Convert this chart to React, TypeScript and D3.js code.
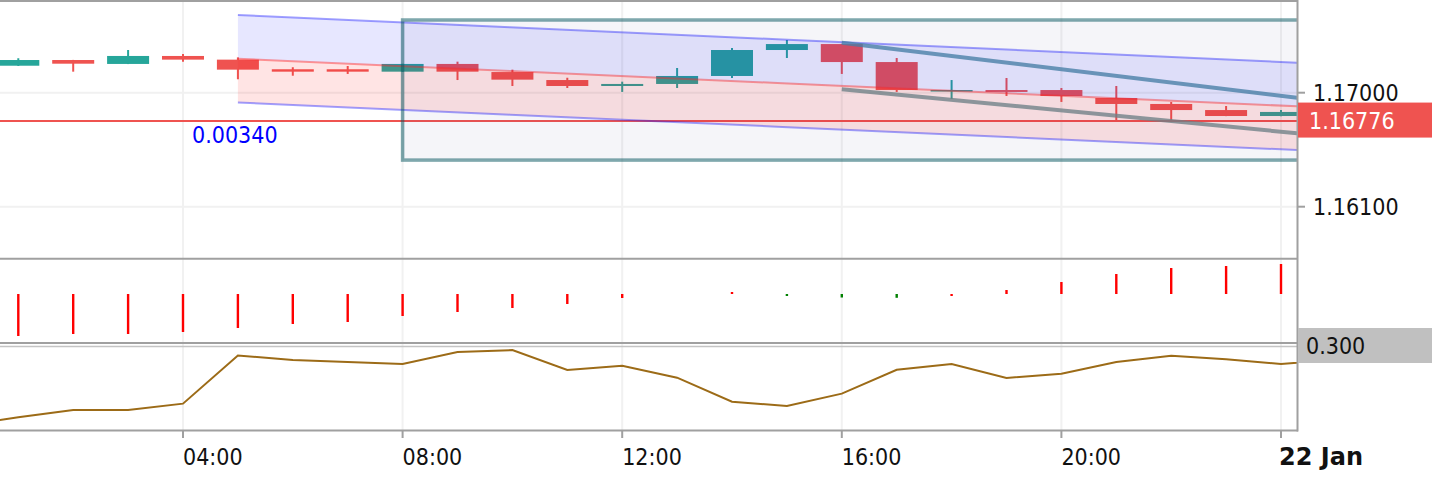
import React from "react";
import * as d3 from "d3";

// ---------- data ----------
const candleHours = [1, 2, 3, 4, 5, 6, 7, 8, 9, 10, 11, 12, 13, 14, 15, 16, 17, 18, 19, 20, 21, 22, 23, 24];
const opens = [1.17213, 1.17258, 1.17227, 1.1729, 1.17261, 1.17185, 1.17185, 1.17166, 1.17227, 1.17163, 1.171, 1.17053, 1.17069, 1.17132, 1.17337, 1.17384, 1.17242, 1.17009, 1.17021, 1.17021, 1.16958, 1.16911, 1.16863, 1.16816];
const highs = [1.17272, 1.17259, 1.17337, 1.17306, 1.17279, 1.17201, 1.17211, 1.17228, 1.17245, 1.17182, 1.17118, 1.17087, 1.17195, 1.17353, 1.17416, 1.17385, 1.17274, 1.171, 1.17116, 1.17037, 1.17053, 1.16927, 1.16895, 1.16863];
const lows = [1.17211, 1.17166, 1.17226, 1.17245, 1.17106, 1.17134, 1.17148, 1.17165, 1.171, 1.17053, 1.17037, 1.17006, 1.17037, 1.17116, 1.17274, 1.17148, 1.17006, 1.1695, 1.16974, 1.16927, 1.16784, 1.16784, 1.16815, 1.16815];
const closes = [1.17258, 1.17229, 1.1729, 1.17261, 1.17182, 1.17166, 1.17166, 1.17227, 1.17166, 1.17103, 1.17053, 1.17069, 1.17132, 1.17337, 1.17384, 1.17242, 1.17021, 1.17021, 1.17006, 1.16974, 1.16911, 1.16863, 1.16816, 1.16848];

const histValues = [-4.2, -4.0, -4.0, -3.8, -3.4, -3.0, -2.8, -2.2, -1.8, -1.4, -1.0, -0.4, 0, 0.2, -0.2, -0.35, -0.38, -0.2, 0.4, 1.2, 2.0, 2.6, 2.8, 3.0];

const oscHours = [0, 1, 2, 3, 4, 5, 6, 7, 8, 9, 10, 11, 12, 13, 14, 15, 16, 17, 18, 19, 20, 21, 22, 23, 24, 25];
const oscValues = [0.021, 0.048, 0.074, 0.074, 0.096, 0.265, 0.249, 0.242, 0.235, 0.277, 0.284, 0.214, 0.229, 0.187, 0.103, 0.088, 0.131, 0.215, 0.235, 0.186, 0.201, 0.242, 0.264, 0.252, 0.235, 0.249];

const timeTicks = [4, 8, 12, 16, 20, 24];
const timeTickLabels = ["04:00", "08:00", "12:00", "16:00", "20:00", "22 Jan"];
const priceTicks = [1.161, 1.17];
const priceTickLabels = ["1.16100", "1.17000"];
const lastPrice = 1.16776;
const lastPriceLabel = "1.16776";
const oscLabelValue = 0.3;
const oscLabel = "0.300";

// regression channel (anchor hours and middle prices), deviation
const channelHours = [5, 24];
const channelMid = [1.17268, 1.16898];
const channelDev = 0.00345;
const channelLabel = "0.00340";

// rectangle
const rectHours = [8, 27];
const rectPrices = [1.17574, 1.16468];

// trend lines (rays)
const trend1Hours = [16, 24];
const trend1Prices = [1.17395, 1.16975];
const trend2Hours = [16, 24];
const trend2Prices = [1.17027, 1.16692];

// ---------- helpers ----------
const t = (h: number) => new Date(Date.UTC(2026, 0, 21, 0) + h * 3600000);
const lerp = (h0: number, p0: number, h1: number, p1: number, h: number) => p0 + ((p1 - p0) * (h - h0)) / (h1 - h0);

const FONT = '"DejaVu Sans Condensed", "DejaVu Sans", sans-serif';
const GREEN = "#26a69a";
const RED = "#ef5350";
const BORDER = "#a0a0a0";
const GRID = "#f1f1f1";

export default function App() {
  const W = 1432;
  const H = 478;
  const plotR = 1297;
  const mainTop = 2, mainBot = 258;
  const midTop = 259.5, midBot = 342.5;
  const botTop = 347, botBot = 430;

  const x = d3.scaleUtc().domain([t(0), t(24)]).range([-36.6, 1281]);
  const yP = d3.scaleLinear().domain([priceTicks[0], priceTicks[1]]).range([206.7, 92.7]);
  const yH = d3.scaleLinear().domain([-5, 3.5]).range([344, 259]);
  const yO = d3.scaleLinear().domain([0, 0.3]).range([431, 345.5]);

  const xh = (h: number) => x(t(h));
  const step = xh(1) - xh(0);
  const bodyW = step * 0.765;
  const hEnd = (x.invert(plotR + 30).getTime() - t(0).getTime()) / 3600000;

  // channel
  const chH = d3.range(channelHours[0], hEnd + 0.001, (hEnd - channelHours[0]) / 4);
  const midAt = (h: number) => lerp(channelHours[0], channelMid[0], channelHours[1], channelMid[1], h);
  const areaUpper = d3
    .area<number>()
    .x((h) => xh(h))
    .y0((h) => yP(midAt(h)))
    .y1((h) => yP(midAt(h) + channelDev));
  const areaLower = d3
    .area<number>()
    .x((h) => xh(h))
    .y0((h) => yP(midAt(h) - channelDev))
    .y1((h) => yP(midAt(h)));
  const lineGen = (off: number) =>
    d3
      .line<number>()
      .x((h) => xh(h))
      .y((h) => yP(midAt(h) + off));

  const t1At = (h: number) => lerp(trend1Hours[0], trend1Prices[0], trend1Hours[1], trend1Prices[1], h);
  const t2At = (h: number) => lerp(trend2Hours[0], trend2Prices[0], trend2Hours[1], trend2Prices[1], h);

  const oscLine = d3
    .line<number>()
    .x((_, i) => xh(oscHours[i]))
    .y((v) => yO(v));

  const gridX = timeTicks.map((h) => xh(h));

  return (
    <svg
      width={W}
      height={H}
      style={{ position: "fixed", left: 0, top: 0, background: "#fff" }}
      fontFamily={FONT}
    >
      <defs>
        <clipPath id="clipMain">
          <rect x={0} y={mainTop} width={plotR} height={mainBot - mainTop} />
        </clipPath>
        <clipPath id="clipMid">
          <rect x={0} y={midTop} width={plotR} height={midBot - midTop} />
        </clipPath>
        <clipPath id="clipBot">
          <rect x={0} y={botTop} width={plotR} height={botBot - botTop} />
        </clipPath>
      </defs>
      <rect x={0} y={0} width={W} height={H} fill="#fff" />

      {/* vertical grid through all panels */}
      {gridX.map((gx, i) => (
        <line key={"gx" + i} x1={gx} x2={gx} y1={mainTop} y2={botBot} stroke={GRID} strokeWidth={2} />
      ))}
      {/* horizontal grid main */}
      {priceTicks.map((p, i) => (
        <line key={"gy" + i} x1={0} x2={plotR} y1={yP(p)} y2={yP(p)} stroke={GRID} strokeWidth={2} />
      ))}

      {/* main panel */}
      <g clipPath="url(#clipMain)">
        {candleHours.map((h, i) => {
          const up = closes[i] >= opens[i];
          const c = up ? GREEN : RED;
          const cx = xh(h);
          const yTop = yP(Math.max(opens[i], closes[i]));
          const yBot = yP(Math.min(opens[i], closes[i]));
          return (
            <g key={"c" + i}>
              <line x1={cx} x2={cx} y1={yP(highs[i])} y2={yP(lows[i])} stroke={c} strokeWidth={2} />
              <rect x={cx - bodyW / 2} y={yTop} width={bodyW} height={Math.max(yBot - yTop, 1.5)} fill={c} />
            </g>
          );
        })}

        {/* last price line */}
        <line x1={0} x2={plotR} y1={yP(lastPrice)} y2={yP(lastPrice)} stroke={RED} strokeWidth={2} />

        {/* regression channel */}
        <path d={areaUpper(chH) || ""} fill="rgba(40,40,255,0.11)" />
        <path d={areaLower(chH) || ""} fill="rgba(255,30,30,0.12)" />
        <path d={lineGen(channelDev)(chH) || ""} fill="none" stroke="rgba(30,30,255,0.42)" strokeWidth={2} />
        <path d={lineGen(0)(chH) || ""} fill="none" stroke="rgba(255,40,40,0.45)" strokeWidth={2} />
        <path d={lineGen(-channelDev)(chH) || ""} fill="none" stroke="rgba(30,30,255,0.42)" strokeWidth={2} />

        {/* rectangle */}
        <rect
          x={xh(rectHours[0])}
          y={yP(rectPrices[0])}
          width={xh(rectHours[1]) - xh(rectHours[0])}
          height={yP(rectPrices[1]) - yP(rectPrices[0])}
          fill="rgba(70,70,150,0.055)"
          stroke="rgba(0,82,92,0.5)"
          strokeWidth={3.5}
        />

        {/* trend lines */}
        <line
          x1={xh(trend1Hours[0])}
          y1={yP(trend1Prices[0])}
          x2={xh(hEnd)}
          y2={yP(t1At(hEnd))}
          stroke="rgba(70,125,165,0.78)"
          strokeWidth={4}
        />
        <line
          x1={xh(trend2Hours[0])}
          y1={yP(trend2Prices[0])}
          x2={xh(hEnd)}
          y2={yP(t2At(hEnd))}
          stroke="rgba(110,128,134,0.78)"
          strokeWidth={4}
        />

        <text x={192} y={143} fontSize={23} fill="#0000ff" fontStretch="condensed">
          {channelLabel}
        </text>
      </g>

      {/* middle histogram */}
      <g clipPath="url(#clipMid)">
        {candleHours.map((h, i) => {
          const v = histValues[i];
          if (v === 0) return null;
          const prev = i > 0 ? histValues[i - 1] : v;
          const c = v < prev ? "#008000" : "#ff0000";
          const y0 = yH(0);
          const y1 = yH(v);
          return (
            <rect key={"hb" + i} x={xh(h) - 1.2} y={Math.min(y0, y1)} width={2.4} height={Math.max(Math.abs(y1 - y0), 1.5)} fill={c} />
          );
        })}
      </g>

      {/* bottom oscillator */}
      <g clipPath="url(#clipBot)">
        <path d={oscLine(oscValues) || ""} fill="none" stroke="#9c6b17" strokeWidth={2} />
      </g>

      {/* panel borders */}
      <line x1={0} x2={plotR + 1} y1={1} y2={1} stroke={BORDER} strokeWidth={2} />
      <line x1={0} x2={plotR + 1} y1={258.7} y2={258.7} stroke={BORDER} strokeWidth={2} />
      <line x1={0} x2={plotR + 1} y1={343} y2={343} stroke={BORDER} strokeWidth={2} />
      <line x1={0} x2={plotR + 1} y1={346.5} y2={346.5} stroke="#c4c4c4" strokeWidth={1.5} />
      <line x1={0} x2={plotR + 1} y1={430.5} y2={430.5} stroke={BORDER} strokeWidth={2} />
      <line x1={plotR + 0.5} x2={plotR + 0.5} y1={0} y2={431.5} stroke={BORDER} strokeWidth={2} />

      {/* price axis */}
      {priceTicks.map((p, i) => (
        <g key={"pt" + i}>
          <line x1={plotR + 1} x2={plotR + 8} y1={yP(p)} y2={yP(p)} stroke={BORDER} strokeWidth={2} />
          <text x={1313} y={yP(p) + 8.5} fontSize={23} fill="#111" fontStretch="condensed">
            {priceTickLabels[i]}
          </text>
        </g>
      ))}
      <rect x={plotR + 1} y={yP(lastPrice) - 18.5} width={W - plotR - 1} height={35} fill={RED} />
      <text x={1309} y={yP(lastPrice) + 8} fontSize={23} fill="#fff" fontStretch="condensed">
        {lastPriceLabel}
      </text>

      {/* oscillator label */}
      <rect x={plotR + 1} y={yO(oscLabelValue) - 17.5} width={W - plotR - 1} height={35} fill="#c0c0c0" />
      <text x={1306} y={yO(oscLabelValue) + 8} fontSize={23} fill="#111" fontStretch="condensed">
        {oscLabel}
      </text>

      {/* time axis */}
      {timeTicks.map((h, i) => (
        <g key={"tt" + i}>
          <line x1={xh(h)} x2={xh(h)} y1={431} y2={438} stroke={BORDER} strokeWidth={2} />
          {i === timeTicks.length - 1 ? (
            <text x={xh(h) - 2} y={465} fontSize={24} fontWeight="bold" fill="#111" fontFamily='"DejaVu Sans", sans-serif'>
              {timeTickLabels[i]}
            </text>
          ) : (
            <text x={xh(h)} y={465} fontSize={23} fill="#111" fontStretch="condensed">
              {timeTickLabels[i]}
            </text>
          )}
        </g>
      ))}
    </svg>
  );
}
